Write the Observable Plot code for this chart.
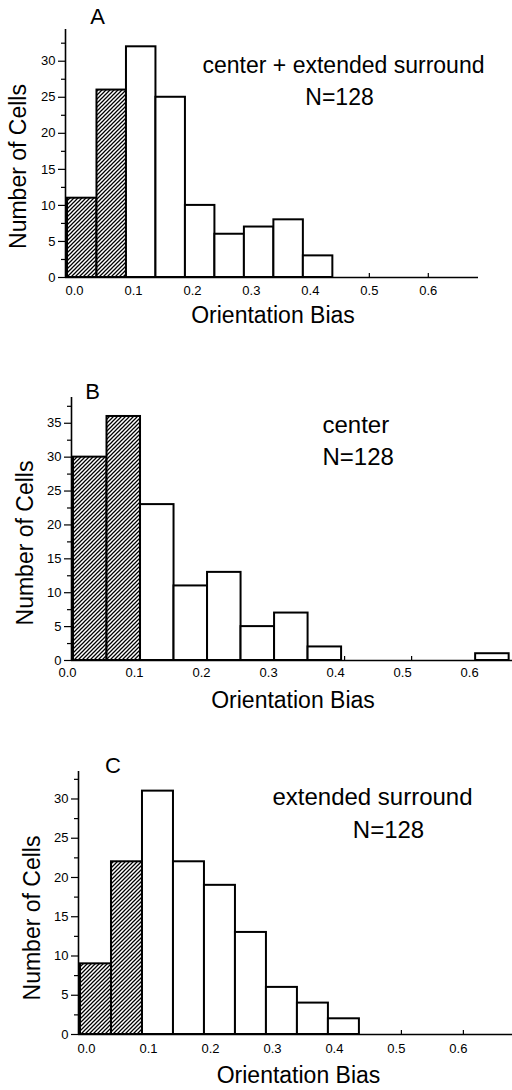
<!DOCTYPE html>
<html>
<head>
<meta charset="utf-8">
<script src="https://cdn.jsdelivr.net/npm/d3@7"></script>
<script src="https://cdn.jsdelivr.net/npm/@observablehq/plot@0.6"></script>
<style>
  html, body { margin: 0; padding: 0; background: white; }
  #chart svg { display: block; }
</style>
</head>
<body>
<svg width="0" height="0" style="position:absolute">
  <defs>
    <pattern id="hatch" patternUnits="userSpaceOnUse" width="4" height="4">
      <rect width="4" height="4" fill="white"></rect>
      <path d="M-1,1 L1,-1 M0,4 L4,0 M3,5 L5,3" stroke="black" stroke-width="1.25"></path>
    </pattern>
  </defs>
</svg>
<div id="chart"></div>
<script>
const fontFamily = "'Liberation Sans', Arial, Helvetica, sans-serif";

// Data
const binWidth = 0.05;
const hatchBelow = 0.1;
const binStartsA = [0, 0.05, 0.10, 0.15, 0.20, 0.25, 0.30, 0.35, 0.40];
const countsA = [11, 26, 32, 25, 10, 6, 7, 8, 3];
const binStartsB = [0, 0.05, 0.10, 0.15, 0.20, 0.25, 0.30, 0.35, 0.40, 0.45, 0.50, 0.55, 0.60];
const countsB = [30, 36, 23, 11, 13, 5, 7, 2, 0, 0, 0, 0, 1];
const binStartsC = [0, 0.05, 0.10, 0.15, 0.20, 0.25, 0.30, 0.35, 0.40];
const countsC = [9, 22, 31, 22, 19, 13, 6, 4, 2];

const xTicks = [0, 0.1, 0.2, 0.3, 0.4, 0.5, 0.6];
const yTicksA = [0, 5, 10, 15, 20, 25, 30];
const yMinorA = [2.5, 7.5, 12.5, 17.5, 22.5, 27.5, 32.5];
const yTicksB = [0, 5, 10, 15, 20, 25, 30, 35];
const yMinorB = [2.5, 7.5, 12.5, 17.5, 22.5, 27.5, 32.5, 37.5];
const yTicksC = [0, 5, 10, 15, 20, 25, 30];
const yMinorC = [2.5, 7.5, 12.5, 17.5, 22.5, 27.5, 32.5];

const xLabel = "Orientation Bias";
const yLabel = "Number of Cells";
const lettersABC = ["A", "B", "C"];
const notesA = ["center + extended surround", "N=128"];
const notesB = ["center", "N=128"];
const notesC = ["extended surround", "N=128"];

function panel(o) {
  const data = o.starts.map((s, i) => ({x1: s, x2: s + binWidth, n: o.counts[i]})).filter(d => d.n > 0);
  const t = d => d;
  return Plot.plot({
    width: 512,
    height: o.height,
    marginLeft: o.ml, marginRight: o.mr, marginTop: o.mt, marginBottom: o.mb,
    style: {fontFamily, fontSize: "13px", color: "black", background: "white", overflow: "visible"},
    x: {domain: [0, o.xMax]},
    y: {domain: [0, o.yMax]},
    marks: [
      Plot.axisX({ticks: xTicks, tickSize: -4, fill: "none", dx: o.tickDx, label: null, strokeWidth: 1.2}),
      Plot.axisX({ticks: xTicks, tickSize: 0, tickPadding: o.xPad, dx: o.labelDx, tickFormat: ".1f", label: null, fontSize: 13}),
      Plot.axisY({ticks: o.minor, tickSize: 4, fill: "none", dx: -2, label: null, strokeWidth: 1.2}),
      Plot.axisY({ticks: o.major, tickSize: 7, tickPadding: 3, dx: -2, label: null, fontSize: 13, strokeWidth: 1.2}),
      Plot.rectY(data, {filter: d => d.x1 < hatchBelow, x1: "x1", x2: "x2", y: "n", fill: "url(#hatch)", stroke: "black", strokeWidth: 2}),
      Plot.rectY(data, {filter: d => d.x1 >= hatchBelow, x1: "x1", x2: "x2", y: "n", fill: "white", stroke: "black", strokeWidth: 2}),
      Plot.ruleY([0], {strokeWidth: 1.6, insetLeft: -2}),
      Plot.ruleX([0], {strokeWidth: 1.6, dx: -2}),
      Plot.text([o.letter], {text: t, frameAnchor: "top-left", textAnchor: "middle", lineAnchor: "top", dx: o.letterDx, dy: o.letterDy, fontSize: 22}),
      Plot.text([o.notes[0]], {text: t, frameAnchor: "top-left", textAnchor: o.noteAnchor, lineAnchor: "top", dx: o.n1dx, dy: o.n1dy, fontSize: o.noteSize}),
      Plot.text([o.notes[1]], {text: t, frameAnchor: "top-left", textAnchor: o.noteAnchor, lineAnchor: "top", dx: o.n2dx, dy: o.n2dy, fontSize: o.noteSize}),
      Plot.text([xLabel], {text: t, frameAnchor: "bottom", textAnchor: "middle", lineAnchor: "middle", dx: o.xlDx, dy: o.xlDy, fontSize: 23}),
      Plot.text([yLabel], {text: t, frameAnchor: "left", textAnchor: "middle", lineAnchor: "middle", rotate: -90, dx: o.ylDx, dy: o.ylDy, fontSize: 23})
    ]
  });
}

const chart = document.getElementById("chart");
chart.append(panel({
  starts: binStartsA, counts: countsA, major: yTicksA, minor: yMinorA,
  height: 330, ml: 67, mr: 34, mt: 29, mb: 53, xMax: 0.697, yMax: 34.4,
  tickDx: 7, labelDx: 7, xPad: 8,
  letter: lettersABC[0], letterDx: 30, letterDy: -21,
  notes: notesA, noteAnchor: "middle", noteSize: 23,
  n1dx: 276, n1dy: 27, n2dx: 272, n2dy: 59,
  xlDx: 0, xlDy: 38, ylDx: -48.7, ylDy: 13
}));
chart.append(panel({
  starts: binStartsB, counts: countsB, major: yTicksB, minor: yMinorB,
  height: 385, ml: 73, mr: 0, mt: 67, mb: 55, xMax: 0.655, yMax: 38.8,
  tickDx: 3, labelDx: -6, xPad: 7.5,
  letter: lettersABC[1], letterDx: 19, letterDy: -14,
  notes: notesB, noteAnchor: "start", noteSize: 24,
  n1dx: 249, n1dy: 18, n2dx: 249, n2dy: 50,
  xlDx: 0, xlDy: 40, ylDx: -48.3, ylDy: 14
}));
chart.append(panel({
  starts: binStartsC, counts: countsC, major: yTicksC, minor: yMinorC,
  height: 375, ml: 80, mr: 0, mt: 56, mb: 56, xMax: 0.697, yMax: 33.5,
  tickDx: 11, labelDx: 6, xPad: 9.5,
  letter: lettersABC[2], letterDx: 32.5, letterDy: -14,
  notes: notesC, noteAnchor: "middle", noteSize: 24,
  n1dx: 292, n1dy: 16, n2dx: 308, n2dy: 49,
  xlDx: 2, xlDy: 41, ylDx: -48, ylDy: 15
}));
</script>
</body>
</html>
